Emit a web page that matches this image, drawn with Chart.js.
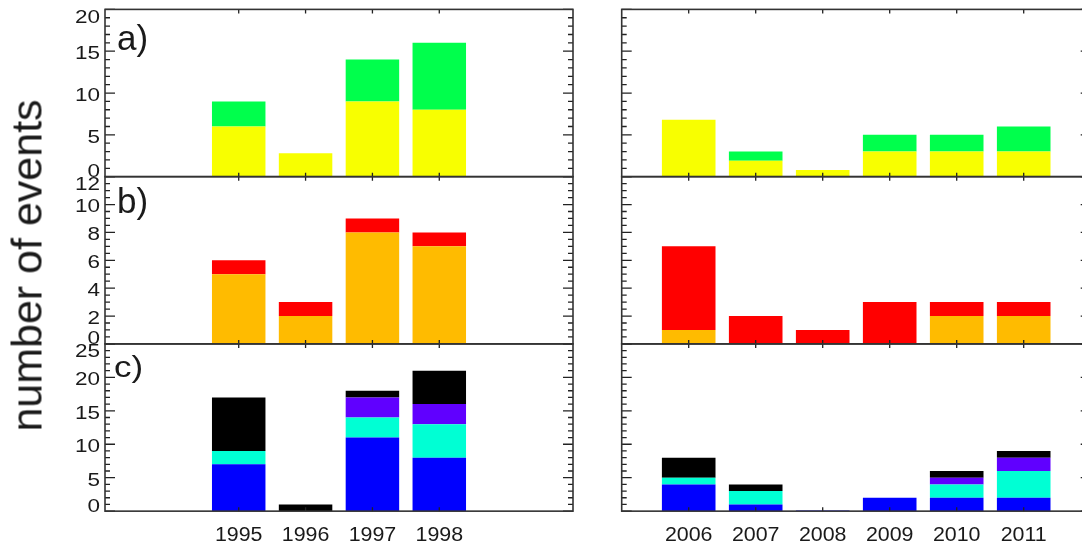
<!DOCTYPE html>
<html>
<head>
<meta charset="utf-8">
<script src="https://cdn.jsdelivr.net/npm/chart.js@4.4.1/dist/chart.umd.min.js"></script>
<style>
  html, body { margin: 0; padding: 0; background: #fff; overflow: hidden; }
  #stage { position: relative; width: 1082px; height: 545px; overflow: hidden; background: #fff; }
  #stage canvas { position: absolute; left: 0; top: 0; }
  #ytitle {
    position: absolute; left: -173px; top: 243.5px; width: 400px; height: 43px;
    line-height: 43px; text-align: center; white-space: nowrap;
    font-family: "Liberation Sans", Arial, sans-serif; font-size: 43px; color: #1a1a1a;
    transform: rotate(-90deg); transform-origin: 50% 50%;
  }
</style>
</head>
<body>
<div id="stage">
  <canvas id="aEarly" width="1100" height="545"></canvas>
  <canvas id="aLate"  width="1100" height="545"></canvas>
  <canvas id="bEarly" width="1100" height="545"></canvas>
  <canvas id="bLate"  width="1100" height="545"></canvas>
  <canvas id="cEarly" width="1100" height="545"></canvas>
  <canvas id="cLate"  width="1100" height="545"></canvas>
  <div id="ytitle">number of events</div>
</div>
<script>
// ---- years (bar positions and x tick labels) ----
const yearsEarly = [1995, 1996, 1997, 1998];
const yearsLate  = [2006, 2007, 2008, 2009, 2010, 2011];

// ---- panel a) ----
const aYellowEarly = [6, 2.8, 9, 8];
const aGreenEarly  = [3, 0, 5, 8];
const aYellowLate  = [6.8, 1.9, 0.8, 3, 3, 3];
const aGreenLate   = [0, 1.1, 0, 2, 2, 3];

// ---- panel b) ----
const bOrangeEarly = [5, 2, 8, 7];
const bRedEarly    = [1, 1, 1, 1];
const bOrangeLate  = [1, 0, 0, 0, 2, 2];
const bRedLate     = [6, 2, 1, 3, 1, 1];

// ---- panel c) ----
const cBlueEarly   = [7, 0, 11, 8];
const cAquaEarly   = [2, 0, 3, 5];
const cPurpleEarly = [0, 0, 3, 3];
const cBlackEarly  = [8, 1, 1, 5];
const cBlueLate    = [4, 1, 0.1, 2, 2, 2];
const cAquaLate    = [1, 2, 0, 0, 2, 4];
const cPurpleLate  = [0, 0, 0, 0, 1, 2];
const cBlackLate   = [3, 1, 0, 0, 1, 1];

// ---- y tick labels ----
const yTicksA = [0, 5, 10, 15, 20];
const yTicksB = [0, 2, 4, 6, 8, 10, 12];
const yTicksC = [0, 5, 10, 15, 20, 25];

const C = {
  yellow: '#f8ff00', green: '#00ff4c', orange: '#ffbb00', red: '#ff0000',
  blue: '#0000ff', aqua: '#00ffd4', purple: '#6000ff', black: '#000000'
};

const CANVAS_W = 1100, CANVAS_H = 545;
const FONT = '"Liberation Sans", Arial, sans-serif';

// draws the frame, inward ticks and the text of one panel
const panelFrame = {
  id: 'panelFrame',
  afterDatasetsDraw(chart, args, o) {
    const ctx = chart.ctx, a = chart.chartArea;
    const xs = chart.scales.x, ys = chart.scales.y;
    ctx.save();

    // y ticks on both sides (major and minor), pointing inward
    ctx.strokeStyle = '#222';
    ctx.lineWidth = 1.3;
    ctx.beginPath();
    const n = Math.round(o.yMax / o.minorStep);
    for (let k = 0; k <= n; k++) {
      const v = k * o.minorStep;
      const major = o.yTicks.some(t => Math.abs(t - v) < 1e-6);
      const len = major ? 10 : 5;
      const y = ys.getPixelForValue(v);
      ctx.moveTo(a.left, y);  ctx.lineTo(a.left + len, y);
      ctx.moveTo(a.right, y); ctx.lineTo(a.right - len, y);
    }
    // x ticks at the years, top and bottom
    o.years.forEach(yr => {
      const x = xs.getPixelForValue(yr);
      ctx.moveTo(x, a.top);    ctx.lineTo(x, a.top + 4);
      ctx.moveTo(x, a.bottom); ctx.lineTo(x, a.bottom - 4);
    });
    ctx.stroke();

    // frame
    ctx.strokeStyle = '#333';
    ctx.lineWidth = 1.6;
    ctx.strokeRect(a.left, a.top, a.right - a.left, a.bottom - a.top);

    ctx.fillStyle = '#1a1a1a';

    // y tick labels
    if (o.showYLabels) {
      const fs = 18, sx = 1.25;
      ctx.font = fs + 'px ' + FONT;
      ctx.textAlign = 'right';
      ctx.textBaseline = 'alphabetic';
      o.yTicks.forEach(t => {
        let cy = ys.getPixelForValue(t) + 1.5;
        cy = Math.min(Math.max(cy, a.top + 7), a.bottom - 6);
        ctx.save();
        ctx.translate(a.left - 5, cy + 0.358 * fs);
        ctx.scale(sx, 1);
        ctx.fillText(String(t), 0, 0);
        ctx.restore();
      });
    }

    // x tick labels
    if (o.showXLabels) {
      const fs = 20, sx = 1.07;
      ctx.font = fs + 'px ' + FONT;
      ctx.textAlign = 'center';
      ctx.textBaseline = 'alphabetic';
      o.years.forEach(yr => {
        ctx.save();
        ctx.translate(xs.getPixelForValue(yr), 541);
        ctx.scale(sx, 1);
        ctx.fillText(String(yr), 0, 0);
        ctx.restore();
      });
    }

    // panel letter
    if (o.tag) {
      ctx.font = o.tag.size + 'px ' + FONT;
      ctx.textAlign = 'left';
      ctx.textBaseline = 'alphabetic';
      ctx.save();
      ctx.translate(o.tag.x, o.tag.y);
      ctx.scale(1, o.tag.sy);
      ctx.fillText(o.tag.text, 0, 0);
      ctx.restore();
    }
    ctx.restore();
  }
};

const LEFT_BOX  = { left: 105,   right: 573,   xMin: 1993, xMax: 2000 };
const RIGHT_BOX = { left: 621.7, right: 1090.7, xMin: 2005, xMax: 2012 };
const ROWS = [
  { top: 9.4,    bottom: 176.65 },
  { top: 176.65, bottom: 343.9 },
  { top: 343.9,  bottom: 511.15 }
];

function panel(id, side, row, years, layers, yMax, yTicks, minorStep, extra) {
  const datasets = layers.map(l => ({
    data: years.map((yr, i) => ({ x: yr, y: l.values[i] })),
    backgroundColor: l.color,
    borderWidth: 0,
    barPercentage: 0.8,
    categoryPercentage: 1.0
  }));
  return new Chart(document.getElementById(id), {
    type: 'bar',
    data: { datasets },
    options: {
      responsive: false,
      animation: false,
      events: [],
      devicePixelRatio: 1,
      layout: {
        padding: {
          left: side.left, right: CANVAS_W - side.right,
          top: row.top, bottom: CANVAS_H - row.bottom
        }
      },
      plugins: {
        legend: { display: false },
        tooltip: { enabled: false },
        panelFrame: Object.assign({ years, yMax, yTicks, minorStep }, extra)
      },
      scales: {
        x: { type: 'linear', min: side.xMin, max: side.xMax, stacked: true, offset: false, display: false },
        y: { type: 'linear', min: 0, max: yMax, stacked: true, display: false }
      }
    },
    plugins: [panelFrame]
  });
}

// a)
panel('aEarly', LEFT_BOX, ROWS[0], yearsEarly,
  [{ values: aYellowEarly, color: C.yellow }, { values: aGreenEarly, color: C.green }],
  20, yTicksA, 1,
  { showYLabels: true, tag: { text: 'a)', x: 117, y: 50, size: 35, sy: 1 } });
panel('aLate', RIGHT_BOX, ROWS[0], yearsLate,
  [{ values: aYellowLate, color: C.yellow }, { values: aGreenLate, color: C.green }],
  20, yTicksA, 1, {});

// b)
panel('bEarly', LEFT_BOX, ROWS[1], yearsEarly,
  [{ values: bOrangeEarly, color: C.orange }, { values: bRedEarly, color: C.red }],
  12, yTicksB, 0.5,
  { showYLabels: true, tag: { text: 'b)', x: 117, y: 213, size: 35, sy: 1 } });
panel('bLate', RIGHT_BOX, ROWS[1], yearsLate,
  [{ values: bOrangeLate, color: C.orange }, { values: bRedLate, color: C.red }],
  12, yTicksB, 0.5, {});

// c)
panel('cEarly', LEFT_BOX, ROWS[2], yearsEarly,
  [{ values: cBlueEarly, color: C.blue }, { values: cAquaEarly, color: C.aqua },
   { values: cPurpleEarly, color: C.purple }, { values: cBlackEarly, color: C.black }],
  25, yTicksC, 1,
  { showYLabels: true, showXLabels: true, tag: { text: 'c)', x: 114, y: 377, size: 35, sy: 0.83 } });
panel('cLate', RIGHT_BOX, ROWS[2], yearsLate,
  [{ values: cBlueLate, color: C.blue }, { values: cAquaLate, color: C.aqua },
   { values: cPurpleLate, color: C.purple }, { values: cBlackLate, color: C.black }],
  25, yTicksC, 1, { showXLabels: true });
</script>
</body>
</html>
